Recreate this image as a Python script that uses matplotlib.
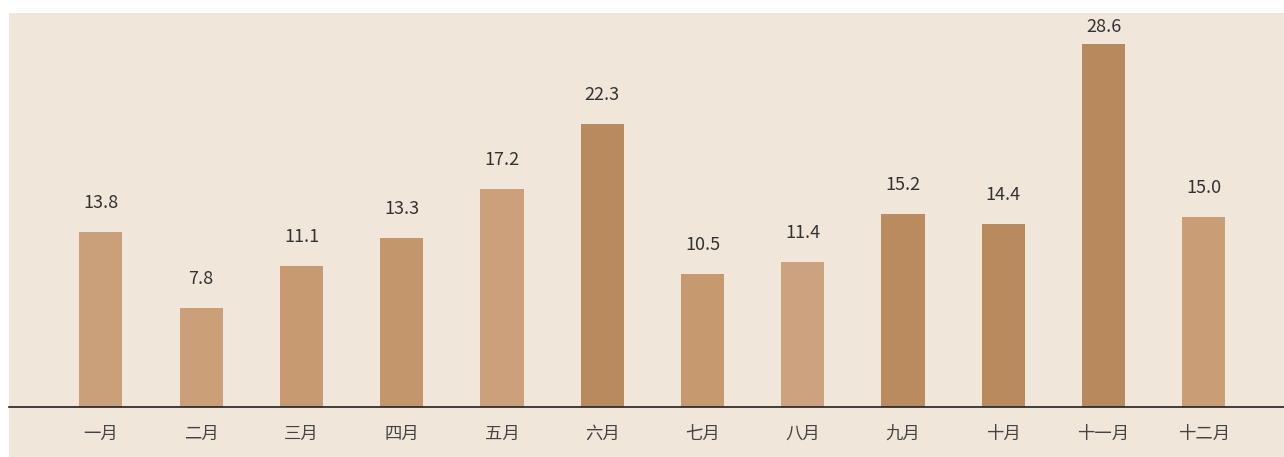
import matplotlib.pyplot as plt
from matplotlib.patches import Rectangle

plt.rcParams['font.family'] = ['Noto Sans CJK SC', 'DejaVu Sans']

months = ['一月', '二月', '三月', '四月', '五月', '六月',
          '七月', '八月', '九月', '十月', '十一月', '十二月']
values = [13.8, 7.8, 11.1, 13.3, 17.2, 22.3, 10.5, 11.4, 15.2, 14.4, 28.6, 15.0]

# bar tints vary a little like the paper texture in the original
bar_colors = ['#C9A07A', '#CB9F78', '#C79A72', '#C4966C', '#CBA17C', '#B98A5E',
              '#C6996F', '#CDA37F', '#BA8B5F', '#B98A5E', '#B7895C', '#C99D75']

DPI = 100
fig = plt.figure(figsize=(12.84, 4.57), dpi=DPI, facecolor='white')
fig.patches.append(Rectangle((9 / 1284, 0), 1, (457 - 13) / 457,
                             transform=fig.transFigure, facecolor='#F1E6DA',
                             edgecolor='none', zorder=-10))

ax = fig.add_axes([9 / 1284, (457 - 407) / 457, 1 - 9 / 1284, (407 - 13) / 457])
ax.set_facecolor('none')

x = range(len(months))
ax.bar(x, values, width=0.43, color=bar_colors, zorder=2)

ymax = 31.05
ax.set_xlim(-0.917, 11.8)
ax.set_ylim(0, ymax)

# value labels ~29px above the bar, but kept inside the plot area
px_per_unit = (407 - 13) / ymax
for xi, v in zip(x, values):
    room = (ymax - v) * px_per_unit - 14
    off_px = min(29, room)
    ax.annotate(f'{v:.1f}', (xi, v), xytext=(0, off_px * 72 / DPI),
                textcoords='offset points', ha='center', va='center',
                fontsize=13, color='#333333')

ax.set_xticks(list(x))
ax.set_xticklabels(months, fontsize=12.5, color='#444444')
ax.tick_params(axis='x', length=0, pad=13)
ax.set_yticks([])
for side in ['top', 'right', 'left']:
    ax.spines[side].set_visible(False)
ax.spines['bottom'].set_color('#222222')
ax.spines['bottom'].set_linewidth(1.2)

fig.savefig('out.png', dpi=DPI, facecolor='white')
